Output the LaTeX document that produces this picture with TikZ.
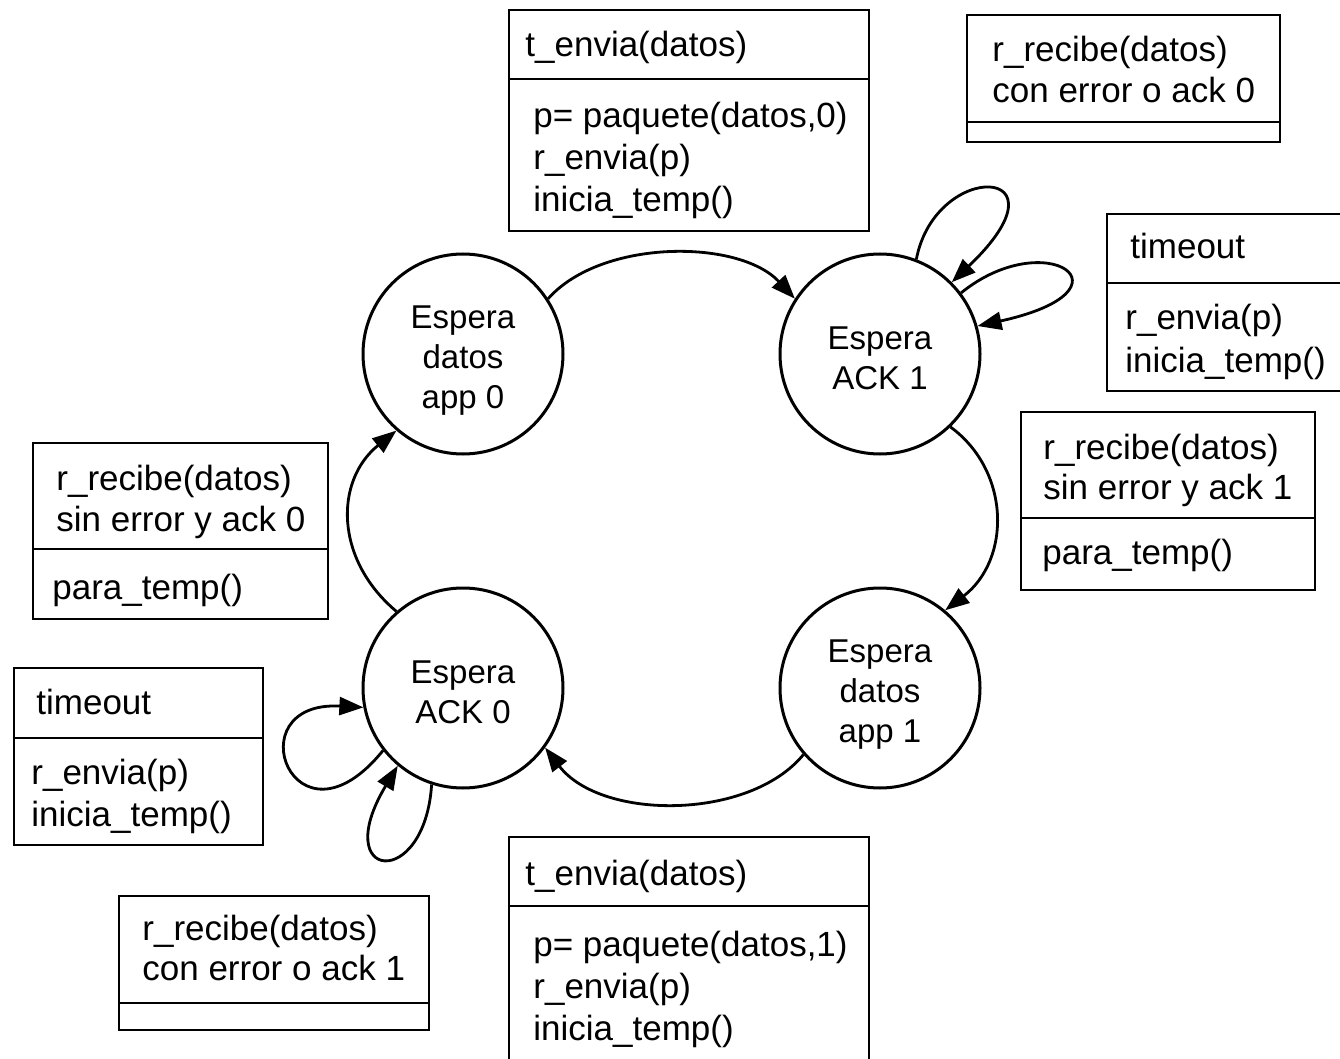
\documentclass[tikz,border=0pt]{standalone}
\usepackage{fontspec}
\setmainfont{Liberation Sans}
\usepackage{tikz}
\usetikzlibrary{arrows.meta,positioning}

\begin{document}
\begin{tikzpicture}[x=0.5pt,y=-0.5pt,
    estado/.style={circle,draw,line width=1.5pt,minimum size=100pt,inner sep=0pt},
    rotulo/.style={align=center,inner sep=0pt,font=\fontsize{16.5}{20}\selectfont},
    caja/.style={draw,line width=1pt},
    txt/.style={anchor=base west,inner sep=0pt,font=\fontsize{17.5}{21}\selectfont},
    trans/.style={line width=1.4pt,-{Triangle[length=12pt,width=9pt]}}]
  \path[use as bounding box,clip] (0,0) rectangle (1340,1059);

  % estados
  \node[estado] (app0) at (463,354) {};
  \node[estado] (ack1) at (880,354) {};
  \node[estado] (app1) at (880,688) {};
  \node[estado] (ack0) at (463,688) {};
  \node[rotulo] (app0-t) at (463,361) {Espera\\datos\\app 0};
  \node[rotulo] (ack1-t) at (880,358) {Espera\\ACK 1};
  \node[rotulo] (app1-t) at (880,695) {Espera\\datos\\app 1};
  \node[rotulo] (ack0-t) at (463,692) {Espera\\ACK 0};

  % transiciones
  \draw[trans] (app0.33) .. controls +(53,-60) and +(-56,-60) .. (ack1.147);
  \draw[trans] (ack1.-46) .. controls +(60,44) and +(66,-51) .. (app1.50);
  \draw[trans] (app1.221) .. controls +(-54,66) and +(56,73) .. (ack0.-36);
  \draw[trans] (ack0.131) .. controls +(-62,-52) and +(-62,50) .. (app0.229);
  \draw[trans] (ack1.69) .. controls +(19,-100) and +(124,-118) .. (ack1.45);
  \draw[trans] (ack1.37) .. controls +(85,-69) and +(164,-36) .. (ack1.16);
  \draw[trans] (ack0.218) .. controls +(-89,110) and +(-130,-7) .. (ack0.191);
  \draw[trans] (ack0.252) .. controls +(-7,107) and +(-69,115) .. (ack0.230);

  % cajas de acciones
  \draw[caja] (509,10) rectangle (869,231) (509,79) -- (869,79);
  \node[txt] (env0) at (525,57) {t\_envia(datos)};
  \node[txt] (env0a) at (533,128) {p= paquete(datos,0)};
  \node[txt] (env0b) at (533,170) {r\_envia(p)};
  \node[txt] (env0c) at (533,212) {inicia\_temp()};

  \draw[caja] (967,15) rectangle (1280,142) (967,122) -- (1280,122);
  \node[txt] (err0) at (992,62) {r\_recibe(datos)};
  \node[txt] (err0a) at (992,103) {con error o ack 0};

  \draw[caja] (1107,214) rectangle (1350,391) (1107,283) -- (1350,283);
  \node[txt] (tout1) at (1130,259) {timeout};
  \node[txt] (tout1a) at (1125,330) {r\_envia(p)};
  \node[txt] (tout1b) at (1125,372) {inicia\_temp()};

  \draw[caja] (1021,412) rectangle (1315,590) (1021,518) -- (1315,518);
  \node[txt] (ok1) at (1043,459) {r\_recibe(datos)};
  \node[txt] (ok1a) at (1043,500) {sin error y ack 1};
  \node[txt] (ok1b) at (1042,564) {para\_temp()};

  \draw[caja] (33,443) rectangle (328,619) (33,549) -- (328,549);
  \node[txt] (ok0) at (56,490) {r\_recibe(datos)};
  \node[txt] (ok0a) at (56,531) {sin error y ack 0};
  \node[txt] (ok0b) at (52,599) {para\_temp()};

  \draw[caja] (14,668) rectangle (263,845) (14,738) -- (263,738);
  \node[txt] (tout0) at (36,714) {timeout};
  \node[txt] (tout0a) at (31,784) {r\_envia(p)};
  \node[txt] (tout0b) at (31,826) {inicia\_temp()};

  \draw[caja] (119,896) rectangle (429,1030) (119,1003) -- (429,1003);
  \node[txt] (err1) at (142,940) {r\_recibe(datos)};
  \node[txt] (err1a) at (142,980) {con error o ack 1};

  \draw[caja] (509,837) rectangle (869,1070) (509,906) -- (869,906);
  \node[txt] (env1) at (525,885) {t\_envia(datos)};
  \node[txt] (env1a) at (533,956) {p= paquete(datos,1)};
  \node[txt] (env1b) at (533,998) {r\_envia(p)};
  \node[txt] (env1c) at (533,1040) {inicia\_temp()};
\end{tikzpicture}
\end{document}
